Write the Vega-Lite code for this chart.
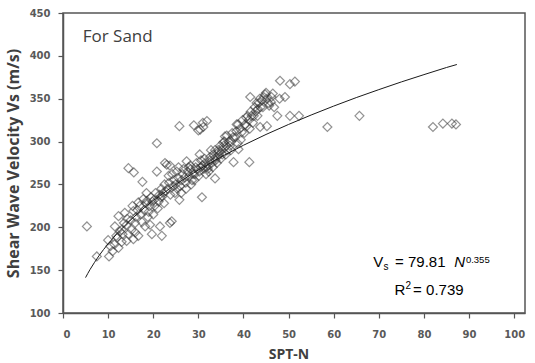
{
  "$schema": "https://vega.github.io/schema/vega-lite/v6.json",
  "width": 462,
  "height": 300,
  "autosize": {"type": "none"},
  "padding": {"left": 63, "top": 13, "right": 10, "bottom": 50},
  "background": "white",
  "config": {
    "view": {"stroke": "#555555", "strokeWidth": 1.5},
    "axis": {
      "grid": false,
      "domainColor": "#555555",
      "domainWidth": 1.5,
      "tickColor": "#555555",
      "tickSize": 5,
      "tickWidth": 1.2,
      "labelFont": "DejaVu Sans",
      "labelFontWeight": "bold",
      "labelFontSize": 10,
      "labelColor": "#595959",
      "titleFont": "Open Sans",
      "titleFontWeight": "bold",
      "titleColor": "#404040"
    }
  },
  "datasets": {
    "pts": [
      {"n":5.3,"v":201},{"n":7.5,"v":166},{"n":10.2,"v":166},{"n":10,"v":185},{"n":10.5,"v":178},
      {"n":11.4,"v":180},{"n":11.5,"v":201},{"n":11,"v":172},{"n":11.8,"v":190},{"n":12.3,"v":176},
      {"n":12.3,"v":213},{"n":12,"v":188},{"n":12.6,"v":195},{"n":13,"v":183},{"n":13,"v":197},
      {"n":13.7,"v":217},{"n":13.2,"v":192},{"n":13.5,"v":205},{"n":14.1,"v":184},{"n":14.1,"v":203},
      {"n":14.5,"v":192},{"n":14.5,"v":269},{"n":14.2,"v":210},{"n":15.6,"v":186},{"n":15.2,"v":197},
      {"n":15.6,"v":219},{"n":15.7,"v":264},{"n":16,"v":194},{"n":15,"v":208},{"n":15.4,"v":225},
      {"n":16.7,"v":190},{"n":16.7,"v":229},{"n":16.2,"v":212},{"n":16.5,"v":220},{"n":16,"v":205},
      {"n":17.8,"v":233},{"n":17.6,"v":253},{"n":17.2,"v":215},{"n":17,"v":225},{"n":17.5,"v":206},
      {"n":18.6,"v":231},{"n":18.2,"v":201},{"n":18,"v":220},{"n":18.4,"v":228},{"n":18.8,"v":212},
      {"n":18.5,"v":240},{"n":19.3,"v":203},{"n":19.7,"v":192},{"n":19.2,"v":225},{"n":19.5,"v":235},
      {"n":19,"v":218},{"n":19.8,"v":230},{"n":20.8,"v":298},{"n":20.8,"v":265},{"n":20.3,"v":225},
      {"n":20.5,"v":240},{"n":20,"v":215},{"n":20.2,"v":232},{"n":21.5,"v":201},{"n":21.9,"v":190},
      {"n":21.2,"v":230},{"n":21.4,"v":238},{"n":21.8,"v":245},{"n":21,"v":222},{"n":21.6,"v":235},
      {"n":22.6,"v":275},{"n":22.2,"v":240},{"n":22.5,"v":250},{"n":22.4,"v":228},{"n":22.8,"v":242},
      {"n":22,"v":236},{"n":23,"v":273},{"n":23.7,"v":272},{"n":23.7,"v":205},{"n":24.1,"v":207},
      {"n":23.2,"v":245},{"n":23.5,"v":252},{"n":23.8,"v":238},{"n":23.4,"v":260},{"n":24.4,"v":248},
      {"n":24.6,"v":255},{"n":24.2,"v":262},{"n":24.8,"v":240},{"n":25,"v":250},{"n":25.3,"v":245},
      {"n":25.5,"v":258},{"n":25.2,"v":265},{"n":25.8,"v":232},{"n":25.6,"v":270},{"n":25.8,"v":318},
      {"n":26,"v":248},{"n":26.3,"v":255},{"n":26.5,"v":262},{"n":26.2,"v":240},{"n":26.7,"v":268},
      {"n":27.4,"v":277},{"n":27,"v":258},{"n":27.2,"v":252},{"n":27.6,"v":265},{"n":27.8,"v":270},
      {"n":27.3,"v":245},{"n":28,"v":260},{"n":28.3,"v":268},{"n":28.6,"v":255},{"n":28.2,"v":272},
      {"n":28.8,"v":262},{"n":28.4,"v":250},{"n":29,"v":319},{"n":29.2,"v":262},{"n":29.4,"v":270},
      {"n":29.6,"v":275},{"n":29.1,"v":255},{"n":29.8,"v":268},{"n":30,"v":313},{"n":30.4,"v":314},
      {"n":30.8,"v":235},{"n":30.2,"v":265},{"n":30.5,"v":270},{"n":30.6,"v":278},{"n":30.1,"v":260},
      {"n":30.9,"v":272},{"n":30.3,"v":285},{"n":31,"v":322},{"n":31.1,"v":317},{"n":31.2,"v":268},
      {"n":31.5,"v":275},{"n":31.7,"v":262},{"n":31.4,"v":280},{"n":31.8,"v":270},{"n":31.9,"v":324},
      {"n":32.2,"v":272},{"n":32.5,"v":278},{"n":32.3,"v":265},{"n":32.6,"v":282},{"n":32.8,"v":290},
      {"n":32.1,"v":268},{"n":33,"v":275},{"n":33.3,"v":285},{"n":33.5,"v":280},{"n":33.2,"v":270},
      {"n":33.7,"v":290},{"n":33.8,"v":278},{"n":33.7,"v":257},{"n":34.2,"v":282},{"n":34.4,"v":290},
      {"n":34.6,"v":285},{"n":34.1,"v":275},{"n":34.8,"v":295},{"n":34.5,"v":288},{"n":35.5,"v":299},
      {"n":35.2,"v":290},{"n":35,"v":280},{"n":35.6,"v":295},{"n":35.3,"v":285},{"n":35.8,"v":300},
      {"n":35.9,"v":306},{"n":36.3,"v":307},{"n":36.2,"v":295},{"n":36.5,"v":290},{"n":36.8,"v":300},
      {"n":36.1,"v":285},{"n":37,"v":295},{"n":37.8,"v":276},{"n":37.3,"v":300},{"n":37.5,"v":310},
      {"n":37.2,"v":290},{"n":37.7,"v":305},{"n":38.5,"v":320},{"n":38.9,"v":291},{"n":38.2,"v":305},
      {"n":38.4,"v":312},{"n":38.7,"v":298},{"n":38.8,"v":320},{"n":39.6,"v":311},{"n":39.2,"v":315},
      {"n":39.4,"v":302},{"n":39.8,"v":325},{"n":40.7,"v":318},{"n":40.2,"v":310},{"n":41.5,"v":352},
      {"n":40.4,"v":320},{"n":40.6,"v":328},{"n":40.9,"v":330},{"n":41.3,"v":276},{"n":41.2,"v":325},
      {"n":41.6,"v":335},{"n":41.4,"v":315},{"n":41.8,"v":330},{"n":42.3,"v":330},{"n":42.5,"v":340},
      {"n":42.1,"v":322},{"n":42.7,"v":335},{"n":42.9,"v":345},{"n":43.2,"v":338},{"n":43.4,"v":345},
      {"n":43.1,"v":330},{"n":43.6,"v":350},{"n":43.8,"v":340},{"n":44.1,"v":348},{"n":44.3,"v":340},
      {"n":44.5,"v":352},{"n":44.8,"v":355},{"n":45.2,"v":350},{"n":45.5,"v":345},{"n":45,"v":357},
      {"n":45.7,"v":342},{"n":46.2,"v":352},{"n":46.5,"v":356},{"n":46.8,"v":340},{"n":45.2,"v":318},
      {"n":43.7,"v":317},{"n":46.1,"v":346},{"n":48.1,"v":371},{"n":48,"v":350},{"n":47.5,"v":330},
      {"n":49.2,"v":352},{"n":50.3,"v":367},{"n":51.4,"v":370},{"n":50.3,"v":330},{"n":52.3,"v":330},
      {"n":58.6,"v":317},{"n":65.7,"v":330},{"n":82,"v":317},{"n":84.2,"v":321},{"n":86.2,"v":321},
      {"n":87.1,"v":320}
    ],
    "fit": [
      {"n":5,"v":141.3},{"n":5.5,"v":146.2},{"n":6,"v":150.8},{"n":7,"v":159.2},{"n":8,"v":167.0},
      {"n":9,"v":174.1},{"n":10,"v":180.7},{"n":12,"v":192.8},{"n":15,"v":208.7},{"n":18,"v":222.7},
      {"n":20,"v":231.2},{"n":25,"v":250.2},{"n":30,"v":266.9},{"n":35,"v":282.0},{"n":40,"v":295.7},
      {"n":45,"v":308.3},{"n":50,"v":320.0},{"n":55,"v":331.0},{"n":60,"v":341.4},{"n":65,"v":351.3},
      {"n":70,"v":360.6},{"n":75,"v":369.6},{"n":80,"v":378.1},{"n":85,"v":386.4},{"n":87.3,"v":389.9}
    ]
  },
  "layer": [
    {
      "data": {"name": "pts"},
      "mark": {"type": "point", "shape": "diamond", "filled": false, "size": 80, "stroke": "#303030", "strokeWidth": 1.2, "strokeOpacity": 0.75},
      "encoding": {
        "x": {"field": "n", "type": "quantitative",
          "scale": {"domain": [0, 102.4], "nice": false, "zero": false},
          "axis": {"values": [0,10,20,30,40,50,60,70,80,90,100], "labelPadding": 11, "title": "SPT-N", "titleFontSize": 14, "titleX": 225.5, "titlePadding": 8}},
        "y": {"field": "v", "type": "quantitative",
          "scale": {"domain": [100, 450], "nice": false, "zero": false},
          "axis": {"values": [100,150,200,250,300,350,400,450], "labelPadding": 8, "title": "Shear Wave Velocity Vs (m/s)", "titleFontSize": 16, "titlePadding": 8}}
      }
    },
    {
      "data": {"name": "fit"},
      "mark": {"type": "line", "color": "#1a1a1a", "strokeWidth": 1},
      "encoding": {
        "x": {"field": "n", "type": "quantitative"},
        "y": {"field": "v", "type": "quantitative"}
      }
    },
    {
      "data": {"values": [{}]},
      "mark": {"type": "text", "text": "For Sand", "align": "left", "baseline": "alphabetic", "font": "Open Sans", "fontSize": 17, "color": "#404040"},
      "encoding": {"x": {"datum": 4.37}, "y": {"datum": 416.5}}
    },
    {
      "data": {"values": [{}]},
      "mark": {"type": "text", "text": "V", "align": "left", "baseline": "alphabetic", "font": "Liberation Sans", "fontSize": 15, "color": "#000000"},
      "encoding": {"x": {"datum": 68.74}, "y": {"datum": 153.9}}
    },
    {
      "data": {"values": [{}]},
      "mark": {"type": "text", "text": "s", "align": "left", "baseline": "alphabetic", "font": "Liberation Sans", "fontSize": 10, "color": "#000000"},
      "encoding": {"x": {"datum": 71.06}, "y": {"datum": 150.7}}
    },
    {
      "data": {"values": [{}]},
      "mark": {"type": "text", "text": "= 79.81", "align": "left", "baseline": "alphabetic", "font": "Liberation Sans", "fontSize": 15, "color": "#000000"},
      "encoding": {"x": {"datum": 73.6}, "y": {"datum": 153.9}}
    },
    {
      "data": {"values": [{}]},
      "mark": {"type": "text", "text": "N", "align": "left", "baseline": "alphabetic", "font": "Liberation Sans", "fontStyle": "italic", "fontSize": 15, "color": "#000000"},
      "encoding": {"x": {"datum": 86.7}, "y": {"datum": 153.9}}
    },
    {
      "data": {"values": [{}]},
      "mark": {"type": "text", "text": "0.355", "align": "left", "baseline": "alphabetic", "font": "Liberation Sans", "fontSize": 9.5, "color": "#000000"},
      "encoding": {"x": {"datum": 89.3}, "y": {"datum": 158.5}}
    },
    {
      "data": {"values": [{}]},
      "mark": {"type": "text", "text": "R", "align": "left", "baseline": "alphabetic", "font": "Liberation Sans", "fontSize": 15, "color": "#000000"},
      "encoding": {"x": {"datum": 73.46}, "y": {"datum": 121.4}}
    },
    {
      "data": {"values": [{}]},
      "mark": {"type": "text", "text": "2", "align": "left", "baseline": "alphabetic", "font": "Liberation Sans", "fontSize": 10, "color": "#000000"},
      "encoding": {"x": {"datum": 75.94}, "y": {"datum": 128.5}}
    },
    {
      "data": {"values": [{}]},
      "mark": {"type": "text", "text": "= 0.739", "align": "left", "baseline": "alphabetic", "font": "Liberation Sans", "fontSize": 15, "color": "#000000"},
      "encoding": {"x": {"datum": 77.6}, "y": {"datum": 121.4}}
    }
  ]
}
